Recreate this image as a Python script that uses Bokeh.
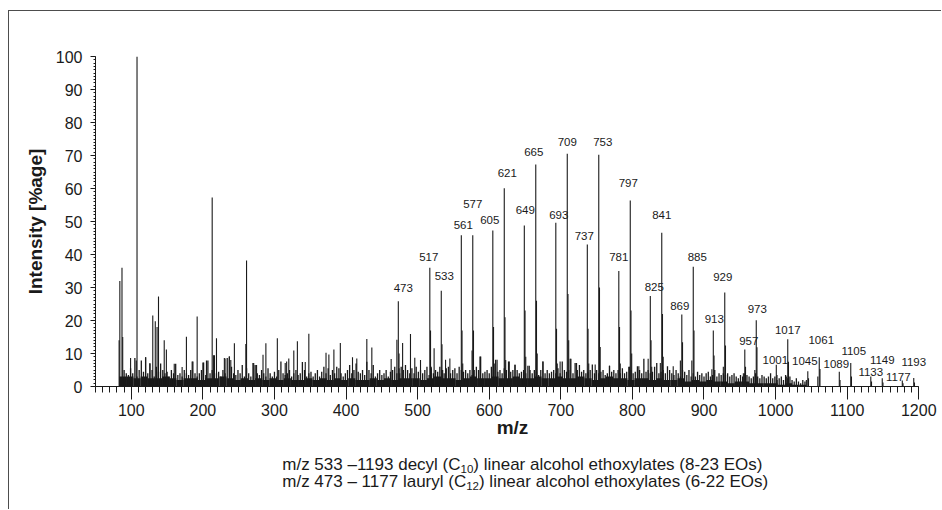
from bokeh.plotting import figure
from bokeh.layouts import column
from bokeh.models import Range1d, FixedTicker, ColumnDataSource
from bokeh.core.properties import value
from bokeh.embed import file_html
from bokeh.resources import INLINE

# ---------------- data ----------------
# labelled oligomer peaks (m/z, intensity %)
peak_mz = [473, 517, 533, 561, 577, 605, 621, 649, 665, 693, 709, 737, 753, 781, 797, 825,
           841, 869, 885, 913, 929, 957, 973, 1001, 1017, 1045, 1061, 1089, 1105, 1133, 1149,
           1177, 1193]
peak_h = [25.8, 36, 29, 45.8, 45.8, 47.3, 60.1, 48.8, 67.3, 49.6, 70.5, 43.0, 70.2, 35, 56.4,
          27.4, 46.6, 21.8, 36.3, 17.0, 28.5, 11.2, 20.1, 6.6, 14.3, 4.6, 8.9, 4.5, 7.1, 3.0,
          2.5, 1.8, 2.6]
peak_label = [str(m) for m in peak_mz]

# isotope / satellite lines of the oligomer clusters
iso_mz = [474, 475, 518, 519, 534, 535, 562, 563, 576, 578, 606, 607, 622, 623, 650, 651,
          666, 667, 694, 695, 710, 711, 738, 739, 754, 755, 782, 783, 798, 799, 826, 827,
          842, 843, 867, 870, 883, 886, 911, 914, 927, 930, 955, 958, 971, 974, 1002, 1015,
          1018, 1043, 1046, 1059, 1062, 1090, 1106, 1134, 1150, 1178, 1194]
iso_h = [10, 4, 17, 6, 12.8, 5, 17, 7, 10.9, 17, 18, 7, 21, 8, 23, 9, 26, 10, 17.5, 7, 28, 14,
         17.5, 7, 30, 12, 18, 7, 23, 10, 14, 6, 22, 9, 7.9, 13.4, 7.9, 17, 5.2, 9.4, 6, 12.4,
         4, 6, 5, 11.9, 3.5, 3, 7.5, 2, 2.5, 3, 5.3, 2, 3, 1.5, 1.2, 1, 1.2]

# other (unlabelled) lines
other_mz = [83, 84, 87, 88, 99, 107, 108, 120, 126, 130, 133.5, 136, 138, 146, 149, 160, 171,
            177, 185, 192, 200, 205, 213, 215, 219, 230, 231, 237, 239, 244, 260, 261, 271,
            275, 284, 288, 304, 315, 317, 320, 327, 332, 343, 348, 372, 376, 383, 392, 409,
            415, 429, 436, 463, 471, 479, 490, 496, 504, 523, 539, 545, 587, 611, 628, 636,
            656, 675, 699, 713, 722, 748, 768, 796, 809, 822, 839, 857]
other_h = [14, 32, 36, 15, 8.6, 7.9, 100, 8.9, 7.1, 21.5, 19.8, 18, 27.3, 14, 11.2, 6.9, 5.9,
           15.1, 7.6, 21.2, 7.3, 7.9, 57.3, 9.5, 14.6, 8.6, 8.5, 9.1, 8, 13.1, 12.9, 38.2, 7.1,
           6.5, 9.6, 13.1, 14.6, 7.1, 7.6, 8.5, 10.9, 13.7, 7.4, 16, 10.2, 9.7, 11.2, 13.2, 8.9,
           8.5, 14.4, 11.8, 8.3, 14.2, 13.2, 15.9, 8.7, 8, 11.6, 8.1, 8.5, 9.1, 8.1, 7.6, 6.6,
           6.3, 7.6, 7.6, 8.4, 7.1, 6.7, 6.3, 6, 6.1, 8.4, 7.1, 6.1]

# chemical-noise "grass", one line every 3 m/z starting at m/z 90
grass_start, grass_step = 90, 3
grass_h = [5, 4, 3.5, 5.5, 4, 8.6, 3, 5, 7.9, 4.5,
           8.9, 4, 6.9, 5, 3, 6, 4.5, 7, 5, 4,
           4.5, 3, 5, 4, 6.9, 3.5, 4, 3, 5, 4,
           3.5, 5, 7.6, 4, 3, 4, 5, 7.3, 3.5, 7.9,
           4, 5, 9.5, 4, 4.5, 3, 5, 4, 8.6, 9.1,
           6, 4, 3.5, 5, 4, 6.5, 3, 5.5, 4, 3,
           7.1, 6.5, 4, 3.5, 5, 4, 3, 5.5, 4, 3,
           4.5, 3, 5, 7.6, 4, 3.5, 4, 5, 3, 4,
           5, 3.5, 4, 7.4, 5, 3, 4, 4.5, 3, 4,
           5, 3, 4.5, 6, 4, 5.5, 3.5, 5, 4, 6,
           5.5, 4, 3, 4, 5, 6.5, 4, 5, 7, 4.5,
           4, 5, 3.5, 7.5, 5, 4, 6.5, 3, 4, 5,
           3.5, 4, 5, 3, 4.5, 5, 6, 4, 5.5, 6,
           5, 6.5, 5, 4, 5.5, 4, 6, 4.5, 5, 4,
           5, 6, 3.5, 5.5, 4, 5, 4.5, 6, 5, 4,
           5.5, 6, 4, 5, 5.5, 4, 6, 5, 4.5, 5,
           4, 5, 3.5, 5, 6, 5, 9.1, 4, 4.5, 5,
           4, 6, 5, 8.1, 4.5, 5, 4, 5.5, 5, 7.6,
           4.5, 5, 6.6, 5, 4, 4.5, 5, 4, 6.3, 5,
           4, 5, 4.5, 3.5, 5, 7.6, 4, 5, 4, 4.5,
           5, 4, 5.5, 4, 7.6, 5, 4.5, 5, 8.4, 4,
           7.1, 5, 6.5, 4.5, 5, 4, 4.5, 5, 6.7, 4,
           5, 4, 4.5, 5, 3.5, 4, 6.3, 4.5, 5, 4,
           5, 4, 5.5, 4, 4.5, 6, 5, 4, 4.5, 6.1,
           5, 4, 8.4, 4.5, 5, 4, 4.5, 6, 7.1, 4,
           4.5, 5, 4, 6.1, 5, 4, 3.5, 5, 4, 3,
           5, 4.5, 3.5, 5, 3, 4, 3, 4.5, 3.5, 4,
           3, 4, 4.5, 3, 3.5, 5, 3, 4, 3.5, 4,
           3.5, 4, 3, 3.5, 4, 3, 2.5, 3.5, 3, 4,
           3.5, 3, 2.5, 3, 4, 3, 2.5, 3.5, 3, 2.5,
           3, 4, 2.5, 3, 2, 2.5, 3, 2, 3.5, 2.5,
           3, 2, 1.5, 2.5, 1.5, 1, 2, 1.5]
grass_mz = [grass_start + grass_step * i for i in range(len(grass_h))]

# dense baseline band, 10 m/z bins starting at m/z 88
floor_start, floor_step = 88, 10
floor_h = [3, 3, 2.5, 3, 2.5, 2.5, 3, 2.5, 2, 2.5,
           2.5, 2, 2.5, 2.5, 3, 2.5, 2, 2.5, 2, 2.5,
           2, 2.5, 2, 2.5, 2, 2, 2.5, 2, 2.5, 2,
           2.5, 2, 2.5, 2, 2, 2.5, 2, 2.5, 2, 2.5,
           2.5, 2.5, 2, 2.5, 3, 2.5, 2.5, 2, 2.5, 3,
           2.5, 2.5, 3, 2.5, 2.5, 3, 2.5, 2.5, 3, 2.5,
           2.5, 3, 2.5, 2.5, 3, 2.5, 2, 2.5, 3, 2.5,
           2.5, 2, 2.5, 2.5, 2, 2.5, 2, 2, 2.5, 1.5,
           2, 1.5, 2, 1.5, 1.5, 1, 1.5, 1.5, 1, 1,
           1, 1, 0.5, 1, 0.5, 0.5]
floor_mz = [floor_start + floor_step * i for i in range(len(floor_h))]

x_ticks = [100, 200, 300, 400, 500, 600, 700, 800, 900, 1000, 1100, 1200]
y_ticks = [0, 10, 20, 30, 40, 50, 60, 70, 80, 90, 100]

caption_pre = ["m/z 533 \u20131193 decyl (C", "m/z 473 \u2013 1177 lauryl (C"]
caption_sub = ["10", "12"]
caption_post = [") linear alcohol ethoxylates (8-23 EOs)", ") linear alcohol ethoxylates (6-22 EOs)"]

# ---------------- label placement (styling) ----------------
label_dx = [5, -1, 3, 2, 0, -3, 3, 1, -2, 3, 0, -3, 4, 0, -2, 4, 0, -2, 4, 1, -2, 4, 1,
            -1, 0, -3, 2, -3, 3, 0, 0, -4, 0]
label_gap = [13, 11, 15, 10, 31, 10, 15, 15, 12, 8, 12, 9, 13, 14, 17, 9, 18, 9, 10, 11, 15,
             9, 11, 5, 9, 10, 17, 8, 12, 5, 18, 4, 16]

FONT = "Liberation Sans"
INK = "#1a1a1a"
W = 932
HP = 440
HC = 58
B_LEFT, B_RIGHT = 86, 12

p = figure(width=W, height=HP, output_backend="svg", toolbar_location=None,
           x_range=Range1d(50, 1215), y_range=Range1d(0, 100),
           min_border_left=B_LEFT, min_border_right=B_RIGHT, min_border_top=45,
           min_border_bottom=65)
p.outline_line_color = None
p.xgrid.visible = False
p.ygrid.visible = False
p.background_fill_color = "white"

# baseline band and grass
p.vbar(x=floor_mz, top=floor_h, bottom=0, width=floor_step, fill_color=INK, line_color=None)
p.segment(x0=grass_mz, y0=[0] * len(grass_mz), x1=grass_mz, y1=grass_h, line_color=INK, line_width=1.3)
p.segment(x0=other_mz, y0=[0] * len(other_mz), x1=other_mz, y1=other_h, line_color=INK, line_width=1.1)
p.segment(x0=iso_mz, y0=[0] * len(iso_mz), x1=iso_mz, y1=iso_h, line_color=INK, line_width=1.1)
p.segment(x0=peak_mz, y0=[0] * len(peak_mz), x1=peak_mz, y1=peak_h, line_color=INK, line_width=1.1)

src = ColumnDataSource(dict(x=peak_mz, y=peak_h, t=peak_label, dx=label_dx,
                            dy=[-g for g in label_gap]))
p.text(x="x", y="y", text="t", x_offset="dx", y_offset="dy", source=src,
       text_font=value(FONT), text_font_size=value("11.5px"), text_color=INK,
       text_align="center", text_baseline="middle")

# axes
xa = p.xaxis[0]
xa.ticker = FixedTicker(ticks=x_ticks, minor_ticks=list(range(50, 1201, 10)))
xa.bounds = (50, 1200)
xa.axis_label = "m/z"
xa.major_tick_out = 13
xa.major_tick_in = 0
xa.minor_tick_out = 6
xa.minor_tick_in = 0
xa.major_label_standoff = 4
xa.axis_label_standoff = -2

ya = p.yaxis[0]
ya.ticker = FixedTicker(ticks=y_ticks, minor_ticks=list(range(0, 101)))
ya.axis_label = "Intensity [%age]"
ya.major_tick_out = 5
ya.major_tick_in = 0
ya.minor_tick_out = 2
ya.minor_tick_in = 0
ya.major_label_standoff = 8
ya.axis_label_standoff = 7

for ax in (xa, ya):
    ax.axis_line_color = INK
    ax.major_tick_line_color = INK
    ax.minor_tick_line_color = INK
    ax.major_label_text_font = FONT
    ax.major_label_text_font_size = "16px"
    ax.major_label_text_color = INK
    ax.axis_label_text_font = FONT
    ax.axis_label_text_font_style = "bold"
    ax.axis_label_text_font_size = "19px"
    ax.axis_label_text_color = INK

# ---------------- caption (separate text panel, canvas-pixel coordinates) ----------------
WID = {' ': 278, '(': 333, ')': 333, '\u2013': 556, '-': 333, '/': 278, 'C': 722, 'E': 667,
       'O': 778, 'a': 556, 'c': 500, 'd': 556, 'e': 556, 'h': 556, 'i': 222, 'l': 222,
       'm': 833, 'n': 556, 'o': 556, 'r': 333, 's': 500, 't': 278, 'u': 556, 'x': 500,
       'y': 500, 'z': 500}


def tw(s, fs):
    return sum(WID.get(ch, 556) for ch in s) * fs / 1000.0


# the column aligns frames, so this panel's frame spans canvas px B_LEFT .. W - B_RIGHT
cap = figure(width=W, height=HC, output_backend="svg", toolbar_location=None,
             x_range=Range1d(B_LEFT, W - B_RIGHT), y_range=Range1d(HC, 0),
             x_axis_location=None, y_axis_location=None,
             min_border_left=B_LEFT, min_border_right=B_RIGHT,
             min_border_top=0, min_border_bottom=0)
cap.outline_line_color = None
cap.grid.visible = False

cap_fs, sub_fs = 17, 11.5
cap_left = 271.5
cap_y = [12.5, 29.5]
xs_list, sub_x, post_x, sub_y = [], [], [], []
for i in range(2):
    xs = cap_left + tw(caption_pre[i], cap_fs)
    xs_list.append(xs)
    sub_x.append(xs)
    post_x.append(xs + tw(caption_sub[i], sub_fs))
    sub_y.append(cap_y[i] + 5)

cap.text(x=xs_list, y=cap_y, text=caption_pre, text_align="right", text_baseline="middle",
         text_font=value(FONT), text_font_size=value(f"{cap_fs}px"), text_color=INK)
cap.text(x=sub_x, y=sub_y, text=caption_sub, text_align="left", text_baseline="middle",
         text_font=value(FONT), text_font_size=value(f"{sub_fs}px"), text_color=INK)
cap.text(x=post_x, y=cap_y, text=caption_post, text_align="left", text_baseline="middle",
         text_font=value(FONT), text_font_size=value(f"{cap_fs}px"), text_color=INK)

layout = column(p, cap, spacing=0,
                styles={"margin-left": "8px", "margin-top": "10px",
                        "border-left": "1.5px solid #4d4d4d",
                        "border-top": "1.5px solid #4d4d4d"})

open("out.html", "w").write(file_html(layout, INLINE))
